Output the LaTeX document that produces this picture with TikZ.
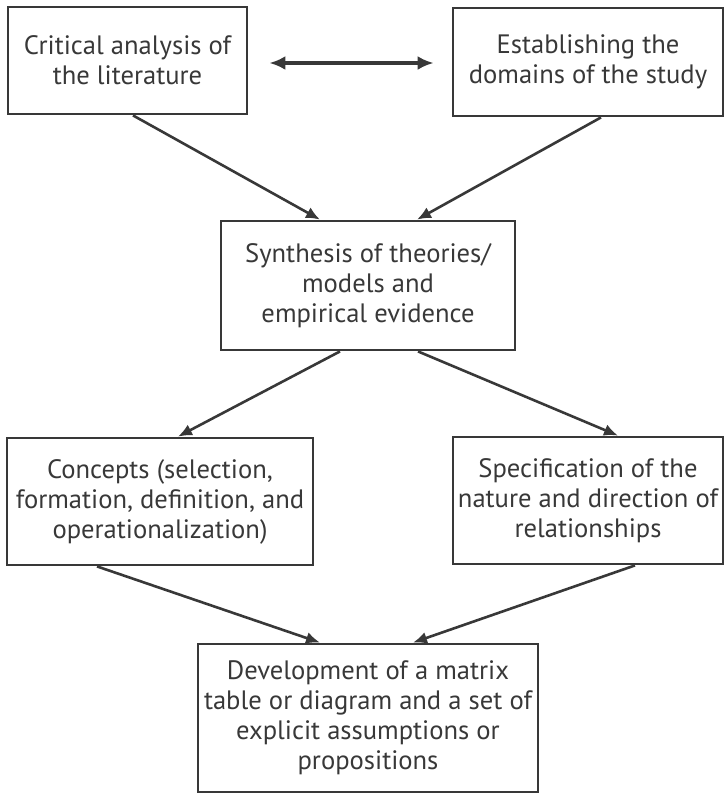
\documentclass[tikz,border=0pt]{standalone}
\usepackage{fontspec}
\setmainfont{PT Sans}
\usetikzlibrary{positioning, arrows.meta}
\definecolor{inkgray}{gray}{0.22}

\begin{document}
\begin{tikzpicture}[x=0.5pt, y=-0.5pt, >={Latex[length=7pt,width=6pt]},
  box/.style={draw=inkgray, line width=1.4pt, text=inkgray, align=center, inner sep=0pt, font=\fontsize{13.3}{15}\selectfont},
  link/.style={draw=inkgray, line width=1.3pt}]
\useasboundingbox (0,0) rectangle (726,794);

%Top row
\node (crit) at (127.5,60.5) [box, minimum width=119.5pt, minimum height=53.5pt] {Critical analysis of\\the literature};
\node (domain) at (588,62) [box, minimum width=135pt, minimum height=54pt] {Establishing the\\domains of the study};

%Middle
\node (synth) at (368,285.5) [box, minimum width=147pt, minimum height=64.5pt] {Synthesis of theories/\\models and\\empirical evidence};

%Second row
\node (concept) at (160,501.5) [box, minimum width=153pt, minimum height=63.5pt] {Concepts (selection,\\formation, definition, and\\operationalization)};
\node (spec) at (588,500.5) [box, minimum width=135pt, minimum height=63.5pt] {Specification of the\\nature and direction of\\relationships};

%Bottom
\node (develop) at (368,718) [box, minimum width=170pt, minimum height=74pt] {Development of a matrix\\table or diagram and a set of\\explicit assumptions or\\propositions};

\draw[{Latex[length=8pt,width=7pt]}-{Latex[length=8pt,width=7pt]}, link, line width=1.8pt, shorten <=10.5pt, shorten >=9pt] ([yshift=-1.25pt]crit.east) -- ([yshift=-1.25pt]crit.east -| domain.west);

\draw[->, link] ([xshift=2.75pt]crit.south) -- ([xshift=-24pt]synth.north);
\draw[->, link] ([xshift=6.5pt]domain.south) -- ([xshift=24.5pt]synth.north);

\draw[->, link] ([xshift=-14pt]synth.south) -- ([xshift=9pt]concept.north);
\draw[->, link] ([xshift=25pt]synth.south) -- ([xshift=15pt]spec.north);

\draw[->, link] ([xshift=-31.5pt]concept.south) -- ([xshift=-24pt]develop.north);
\draw[->, link] ([xshift=23.5pt]spec.south) -- ([xshift=22.5pt]develop.north);

\end{tikzpicture}
\end{document}
